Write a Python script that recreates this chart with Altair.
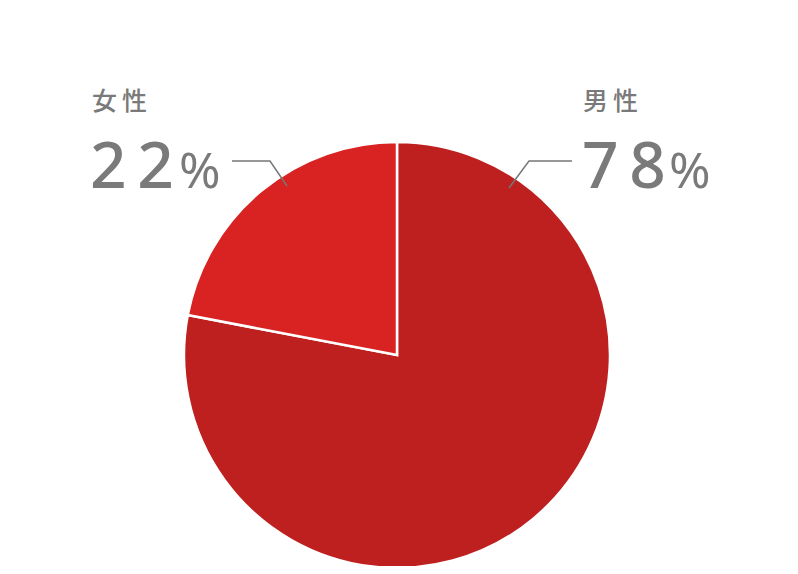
import altair as alt
import pandas as pd

categories = ["男性", "女性"]
values = [78, 22]
colors = ["#be2020", "#d92323"]
order = [1, 2]

df = pd.DataFrame({"cat": categories, "val": values, "ord": order})

W, H = 782, 558
cx, cy, R = 389, 347, 213

pie = alt.Chart(df).mark_arc(stroke="white", strokeWidth=2.5, outerRadius=R).encode(
    theta=alt.Theta("val:Q", stack=True),
    order=alt.Order("ord:Q"),
    color=alt.Color("cat:N", scale=alt.Scale(domain=categories, range=colors), legend=None),
    x=alt.value(cx),
    y=alt.value(cy),
)

TS = "\u2009"
lab_df = pd.DataFrame({
    "name": [TS.join("女性"), TS.join("男性")],
    "pct": [TS.join(str(values[1])), TS.join(str(values[0]))],
    "p": ["%", "%"],
    "nx": [84, 575],
    "px": [82, 574],
    "sx": [171, 661],
})
name_t = alt.Chart(lab_df).mark_text(
    align="left", baseline="alphabetic", fontSize=25, color="#7a7a7a",
    font="Noto Sans CJK JP", fontWeight=500
).encode(x=alt.X("nx:Q", scale=None), y=alt.value(102), text="name:N")

num_t = alt.Chart(lab_df).mark_text(
    align="left", baseline="alphabetic", fontSize=64, color="#7a7a7a",
    font="Noto Sans", fontWeight=500
).encode(x=alt.X("px:Q", scale=None), y=alt.value(180), text="pct:N")

pct_t = alt.Chart(lab_df).mark_text(
    align="left", baseline="alphabetic", fontSize=50, color="#7a7a7a",
    font="Noto Sans"
).encode(x=alt.X("sx:Q", scale=None), y=alt.value(180), text="p:N")

lines_df = pd.DataFrame({
    "g": ["f", "f", "f", "m", "m", "m"],
    "i": [0, 1, 2, 0, 1, 2],
    "lx": [224, 262, 279, 564, 521, 501],
    "ly": [153, 153, 178, 153, 153, 180],
})
leader = alt.Chart(lines_df).mark_line(color="#777777", strokeWidth=1.5).encode(
    x=alt.X("lx:Q", scale=None), y=alt.Y("ly:Q", scale=None),
    detail="g:N", order="i:Q"
)

chart = alt.layer(pie, leader, name_t, num_t, pct_t).properties(
    width=W, height=H, padding=0, autosize="none"
).configure_view(stroke=None)

chart.save("out.html", embed_options={"renderer": "svg", "actions": False})
